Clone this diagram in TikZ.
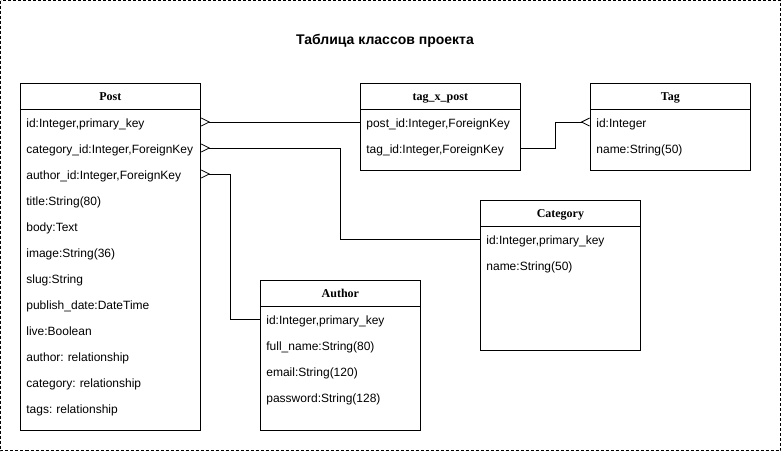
\documentclass[tikz,border=0pt]{standalone}
\usepackage{fontspec}
\setmainfont{Liberation Serif}
\setsansfont{Liberation Sans}
\usetikzlibrary{arrows.meta}
\frenchspacing
\newcommand{\headfont}{\fontsize{12}{14}\selectfont\bfseries}
\newcommand{\fieldfont}{\fontsize{12}{14}\selectfont\sffamily}
\begin{document}
\begin{tikzpicture}[x=1pt,y=-1pt,line width=0.8pt,
	head/.style={draw,anchor=north west,minimum height=26pt,inner sep=0pt,text height=10pt,text depth=2pt,font=\headfont},
	body/.style={draw,anchor=north west,inner sep=0pt},
	field/.style={anchor=west,inner xsep=6pt,inner ysep=0pt,text width=#1,text height=12pt,text depth=2pt,align=left,font=\fieldfont},
	crow/.tip={Straight Barb[reversed,length=8pt,width=8pt]}]
	\useasboundingbox (0,0) rectangle (781,451);
	\draw[dash pattern=on 3pt off 2pt] (0.5,0.5) rectangle (780.5,450.5);
	\node[font=\fontsize{14}{16}\selectfont\sffamily\bfseries] (title) at (385,41) {Таблица классов проекта};
	% Post
	\node[head,minimum width=180pt] (post) at (20,83) {Post};
	\node[body,minimum width=180pt,minimum height=321pt] (postbody) at (20,109) {};
	\foreach \f [count=\i] in {{id:Integer,primary\_key},{category\_id:Integer,ForeignKey},{author\_id:Integer,ForeignKey},{title:String(80)},{body:Text},{image:String(36)},{slug:String},{publish\_date:DateTime},{live:Boolean},{author: relationship},{category: relationship},{tags: relationship}}{
		\node[field=168pt] (post-\i) at (20,96+26*\i) {\f};
	}
	% tag_x_post
	\node[head,minimum width=160pt] (txp) at (360,83) {tag\_x\_post};
	\node[body,minimum width=160pt,minimum height=61pt] (txpbody) at (360,109) {};
	\foreach \f [count=\i] in {{post\_id:Integer,ForeignKey},{tag\_id:Integer,ForeignKey}}{
		\node[field=148pt] (txp-\i) at (360,96+26*\i) {\f};
	}
	% Tag
	\node[head,minimum width=160pt] (tag) at (590,83) {Tag};
	\node[body,minimum width=160pt,minimum height=61pt] (tagbody) at (590,109) {};
	\foreach \f [count=\i] in {{id:Integer},{name:String(50)}}{
		\node[field=148pt] (tag-\i) at (590,96+26*\i) {\f};
	}
	% Category
	\node[head,minimum width=160pt] (cat) at (480,200) {Category};
	\node[body,minimum width=160pt,minimum height=124pt] (catbody) at (480,226) {};
	\foreach \f [count=\i] in {{id:Integer,primary\_key},{name:String(50)}}{
		\node[field=148pt] (cat-\i) at (480,213+26*\i) {\f};
	}
	% Author
	\node[head,minimum width=160pt] (auth) at (260,280) {Author};
	\node[body,minimum width=160pt,minimum height=124pt] (authbody) at (260,306) {};
	\foreach \f [count=\i] in {{id:Integer,primary\_key},{full\_name:String(80)},{email:String(120)},{password:String(128)}}{
		\node[field=148pt] (auth-\i) at (260,293+26*\i) {\f};
	}
	% links
	\draw[crow-] (post-1.east) -- (txp-1.west);
	\draw[crow-] (post-2.east) -- ++(140,0) |- (cat-1.west);
	\draw[crow-] (post-3.east) -- ++(30,0) |- (auth-1.west);
	\draw[-crow] (txp-2.east) -- ++(35,0) |- (tag-1.west);
\end{tikzpicture}
\end{document}
